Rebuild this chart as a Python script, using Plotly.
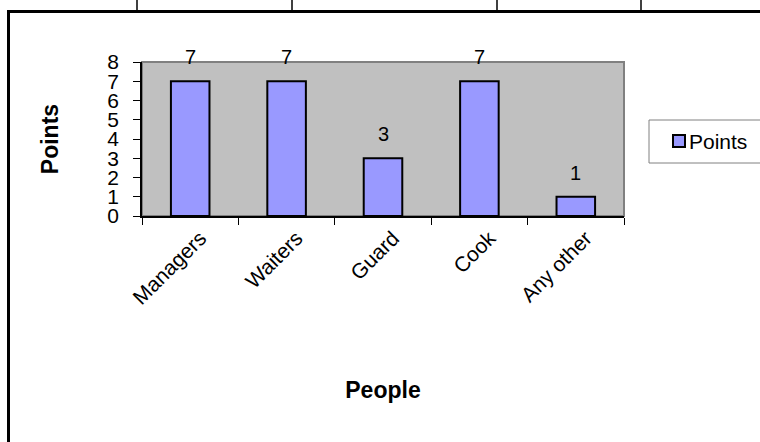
import plotly.graph_objects as go

# Survey results: points given to each group of people
categories = ["Managers", "Waiters", "Guard", "Cook", "Any other"]
points = [7, 7, 3, 7, 1]
y_ticks = [0, 1, 2, 3, 4, 5, 6, 7, 8]
series_name = "Points"

W, H = 760, 442
L, R, T, B = 142, 624, 62, 216  # plot area in pixels
PW, PH = R - L, B - T


def px(x):
    return (x - L) / PW


def py(y):
    return (B - y) / PH


FONT = "Liberation Sans, Arial, sans-serif"
BAR_COLOR = "#9999FF"

fig = go.Figure()
fig.add_trace(go.Bar(
    x=categories, y=points, name=series_name, width=0.4,
    marker=dict(color=BAR_COLOR, line=dict(color="black", width=2)),
    showlegend=False,
))

# value labels above each bar
for c, v in zip(categories, points):
    fig.add_annotation(x=c, y=v, text=str(v), showarrow=False,
                       yanchor="middle", yshift=24,
                       font=dict(family=FONT, size=20, color="black"))

# legend entry: swatch + series name inside a framed box
fig.add_annotation(xref="paper", yref="paper", x=px(687), y=py(141),
                   xanchor="left", yanchor="middle", showarrow=False,
                   text=series_name,
                   font=dict(family=FONT, size=21, color="black"))

shapes = [
    # gray frame of the plot area
    dict(type="rect", xref="paper", yref="paper", x0=0, x1=1, y0=0, y1=1,
         line=dict(color="#808080", width=2), layer="below"),
    # legend box (runs past the right edge)
    dict(type="rect", xref="paper", yref="paper",
         x0=px(649), x1=px(775), y0=py(163), y1=py(120),
         line=dict(color="#808080", width=1)),
    dict(type="rect", xref="paper", yref="paper",
         x0=px(673), x1=px(685), y0=py(147), y1=py(135),
         fillcolor=BAR_COLOR, line=dict(color="black", width=2)),
    # surrounding table borders
    dict(type="line", xref="paper", yref="paper",
         x0=px(7), x1=px(765), y0=py(11.5), y1=py(11.5),
         line=dict(color="black", width=3)),
    dict(type="line", xref="paper", yref="paper",
         x0=px(8.5), x1=px(8.5), y0=py(10), y1=py(445),
         line=dict(color="black", width=3)),
]
for xv in [137, 292, 497, 641]:
    shapes.append(dict(type="line", xref="paper", yref="paper",
                       x0=px(xv), x1=px(xv), y0=py(-2), y1=py(11),
                       line=dict(color="black", width=1.5)))

fig.update_layout(
    width=W, height=H,
    margin=dict(l=L, r=W - R, t=T, b=H - B, pad=0),
    paper_bgcolor="white", plot_bgcolor="#C0C0C0",
    font=dict(family=FONT, size=20, color="black"),
    showlegend=False,
    bargap=0.6,
    shapes=shapes,
)
fig.update_xaxes(
    type="category", range=[-0.5, 4.5],
    showline=True, linecolor="black", linewidth=1.5,
    ticks="outside", tickson="boundaries", ticklen=7, tickcolor="black",
    tickangle=-45, showgrid=False, ticklabelshift=10,
    tickfont=dict(family=FONT, size=21),
    title=dict(text="<b>People</b>", standoff=74,
               font=dict(family=FONT, size=23)),
)
fig.update_yaxes(
    range=[0, 8], tickvals=y_ticks, ticktext=[str(v) for v in y_ticks],
    showline=True, linecolor="black", linewidth=1.5,
    ticks="outside", ticklen=7, tickcolor="black",
    showgrid=False, zeroline=False,
    tickfont=dict(family=FONT, size=21),
    ticklabelstandoff=10,
    title=dict(text="<b>Points</b>", standoff=42,
               font=dict(family=FONT, size=23)),
)

fig.write_html("out.html")
